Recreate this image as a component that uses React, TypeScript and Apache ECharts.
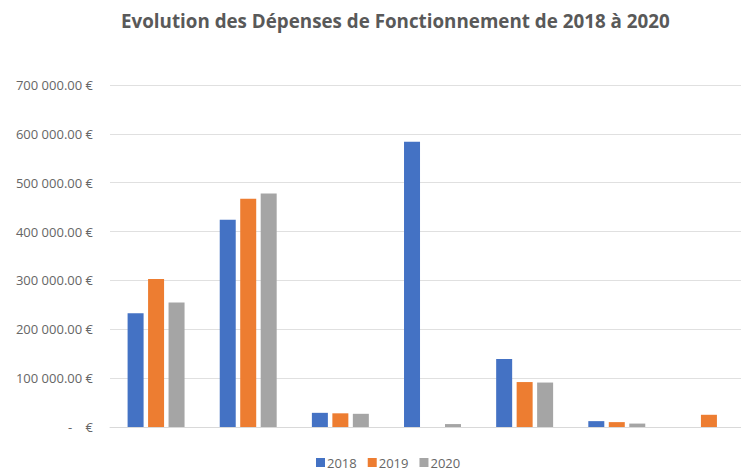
import React, { useEffect, useRef } from "react";
import * as echarts from "echarts";

const categories = ["Cat 1", "Cat 2", "Cat 3", "Cat 4", "Cat 5", "Cat 6", "Cat 7"];
const years = ["2018", "2019", "2020"];
const values2018 = [233000, 424000, 29000, 584000, 139000, 12000, 0];
const values2019 = [303000, 467000, 28000, 0, 92000, 10000, 25000];
const values2020 = [255000, 478000, 27000, 6000, 91000, 7000, 0];
const colors = ["#4472C4", "#ED7D31", "#A5A5A5"];
const titleText = "Evolution des Dépenses de Fonctionnement de 2018 à 2020";

function fmt(v: number): string {
  if (v === 0) return "-    €";
  const s = Math.round(v).toString().replace(/\B(?=(\d{3})+(?!\d))/g, " ");
  return s + ".00 €";
}

export default function App() {
  const ref = useRef<HTMLDivElement>(null);
  useEffect(() => {
    if (!ref.current) return;
    const chart = echarts.init(ref.current, undefined, { renderer: "svg" });
    const seriesData = [values2018, values2019, values2020];
    chart.setOption({
      animation: false,
      backgroundColor: "#ffffff",
      title: {
        text: titleText,
        left: 116,
        top: 6,
        textStyle: {
          fontFamily: "Open Sans",
          fontWeight: "bold",
          fontSize: 18.8,
          color: "#595959",
        },
      },
      legend: {
        top: 451,
        left: 311,
        itemWidth: 9,
        itemHeight: 9,
        itemGap: 11,
        icon: "rect",
        textStyle: { fontFamily: "Open Sans", fontSize: 13, color: "#666666", padding: [0, 0, 0, -3] },
        data: years,
      },
      grid: { left: 110, right: 1, top: 85, bottom: 46 },
      xAxis: {
        type: "category",
        data: categories,
        axisLine: { lineStyle: { color: "#d9d9d9" } },
        axisTick: { show: false },
        axisLabel: { show: false },
      },
      yAxis: {
        type: "value",
        min: 0,
        max: 700000,
        interval: 100000,
        axisLine: { show: false },
        axisTick: { show: false },
        splitLine: { lineStyle: { color: "#e0e0e0", width: 1 } },
        axisLabel: {
          formatter: (v: number) => fmt(v),
          fontFamily: "Open Sans",
          fontSize: 13,
          color: "#666666",
          margin: 17,
        },
      },
      series: years.map((y, i) => ({
        name: y,
        type: "bar",
        data: seriesData[i],
        barWidth: 16,
        barGap: "28%",
        itemStyle: { color: colors[i] },
      })),
    });
    return () => chart.dispose();
  }, []);
  return (
    <div style={{ width: 741, height: 473, position: "absolute", left: 0, top: 0, overflow: "hidden" }}>
      <div ref={ref} style={{ width: 756, height: 473 }} />
    </div>
  );
}
